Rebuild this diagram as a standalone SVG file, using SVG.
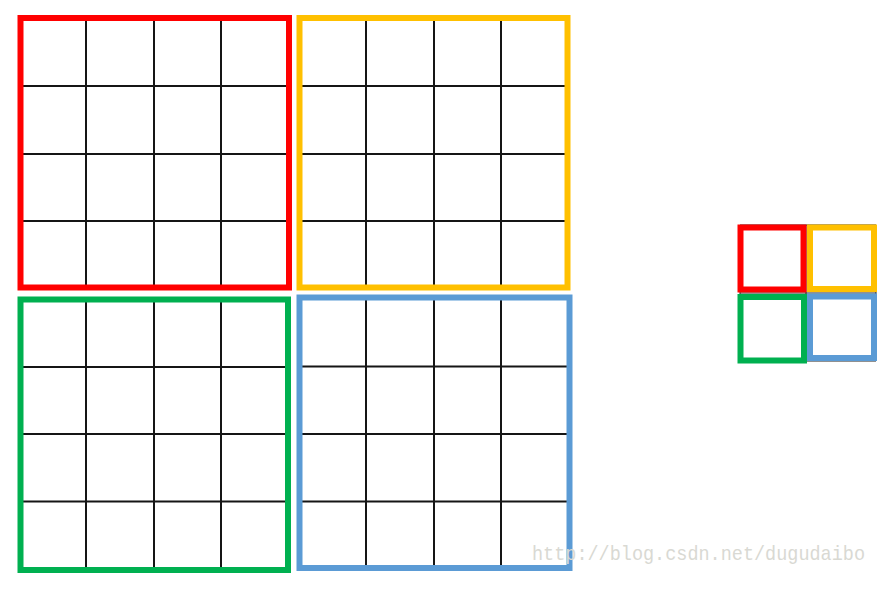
<svg xmlns="http://www.w3.org/2000/svg" width="892" height="591" viewBox="0 0 892 591">
<style>
.grid{stroke:#151515;stroke-width:2;fill:none}
.frame{fill:none;stroke-width:6;stroke-linejoin:miter}
.sframe{fill:none;stroke-width:6}
.red{stroke:#FF0000}
.yellow{stroke:#FFC000}
.green{stroke:#00B050}
.blue{stroke:#5B9BD5}
.wm{font-family:"Liberation Mono","DejaVu Sans Mono",monospace;font-size:21px;fill:#d9d9d3}
</style>
<rect width="892" height="591" fill="#ffffff"/>
<g id="quad-red">
<path class="grid" d="M86 18V287M154 18V287M221 18V287M20 86H289M20 154H289M20 221H289"/>
<rect class="frame red" x="20.5" y="18" width="268.5" height="269.5"/>
</g>
<g id="quad-yellow">
<path class="grid" d="M366 18V287M434 18V287M501 18V287M299 86H567M299 154H567M299 221H567"/>
<rect class="frame yellow" x="299.5" y="18" width="268" height="269.5"/>
</g>
<g id="quad-green">
<path class="grid" d="M86 299V570M154 299V570M221 299V570M20 367H288M20 434H288M20 501.5H288"/>
<rect class="frame green" x="20.5" y="299.5" width="267.5" height="270.5"/>
</g>
<g id="quad-blue">
<path class="grid" d="M366 297V568M434 297V568M501 297V568M299 366.5H570M299 434H570M299 501.5H570"/>
<rect class="frame blue" x="299.5" y="297.5" width="270" height="270.5"/>
</g>
<g id="small">
<path d="M740 225H876V361H740ZM806 225V361M740 293H876" fill="none" stroke="#222" stroke-width="1"/>
<rect id="small-red" class="sframe red" x="740.5" y="227.5" width="63" height="62"/>
<rect id="small-yellow" class="sframe yellow" x="810" y="227.5" width="64" height="61.5"/>
<rect id="small-green" class="sframe green" x="740.5" y="297" width="63.5" height="63.5"/>
<rect id="small-blue" class="sframe blue" x="810" y="296.5" width="64" height="61.5"/>
</g>
<text class="wm" x="532" y="560" textLength="333" lengthAdjust="spacingAndGlyphs">http://blog.csdn.net/dugudaibo</text>
</svg>
